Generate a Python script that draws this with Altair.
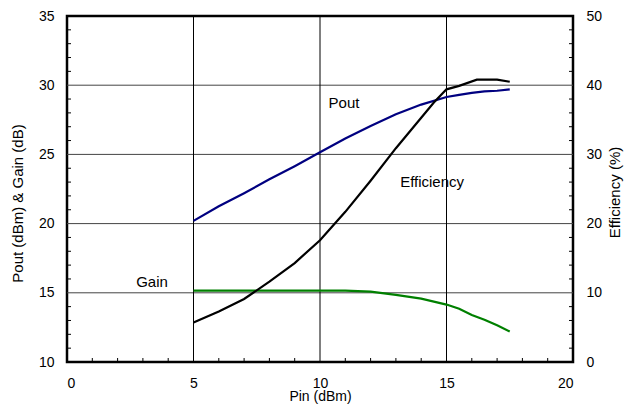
import altair as alt
import pandas as pd

pin = [5, 6, 7, 8, 9, 10, 11, 12, 13, 14, 15, 15.5, 16, 16.5, 17, 17.5]
pout = [20.2, 21.25, 22.2, 23.2, 24.15, 25.15, 26.15, 27.05, 27.9, 28.6, 29.15, 29.3, 29.45, 29.55, 29.6, 29.7]
gain = [15.15, 15.15, 15.15, 15.15, 15.15, 15.15, 15.15, 15.08, 14.85, 14.58, 14.15, 13.85, 13.4, 13.05, 12.65, 12.2]
pin_eff = [5, 6, 7, 8, 9, 10, 11, 12, 13, 14, 14.5, 15, 15.5, 16.2, 17, 17.5]
eff = [5.7, 7.3, 9.1, 11.6, 14.3, 17.6, 21.7, 26.2, 30.9, 35.3, 37.5, 39.4, 39.9, 40.8, 40.8, 40.5]

x_grid = [5, 10, 15]
y_grid = [15, 20, 25, 30]
x_minor = [v for v in range(1, 20) if v % 5 != 0]
y_minor = [v for v in range(11, 35) if v % 5 != 0]
r_minor = [v for v in range(2, 50, 2) if v % 10 != 0]

label_text = ["Pout", "Efficiency", "Gain"]
label_x = [10.95, 14.43, 3.36]
label_y = [28.7, 23.0, 15.78]

FONT = "Liberation Sans"
W, H = 506, 346

df_main = pd.DataFrame({"pin": pin, "pout": pout, "gain": gain})
df_eff = pd.DataFrame({"pin": pin_eff, "eff": eff})
df_lbl = pd.DataFrame({"t": label_text, "x": label_x, "y": label_y})

xs = alt.Scale(domain=[0, 20], nice=False, zero=False)
ls = alt.Scale(domain=[10, 35], nice=False, zero=False)
rs = alt.Scale(domain=[0, 50], nice=False, zero=False)

x_axis = alt.Axis(values=[0, 5, 10, 15, 20], tickSize=0, labelPadding=14, grid=False,
                  domain=False, labelFont=FONT, labelFontSize=14, labelColor="black",
                  title="Pin (dBm)", titleFont=FONT, titleFontSize=14, titleFontWeight="normal",
                  titleColor="black", titlePadding=-1)
l_axis = alt.Axis(values=[10, 15, 20, 25, 30, 35], tickSize=0, labelPadding=13, grid=False,
                  domain=False, orient="left", labelFont=FONT, labelFontSize=14, labelColor="black",
                  title="Pout (dBm) & Gain (dB)", titleFont=FONT, titleFontSize=15,
                  titleFontWeight="normal", titleColor="black", titlePadding=13, titleY=187)
r_axis = alt.Axis(values=[0, 10, 20, 30, 40, 50], tickSize=0, labelPadding=13, grid=False,
                  domain=False, orient="right", labelFont=FONT, labelFontSize=14, labelColor="black",
                  title="Efficiency (%)", titleFont=FONT, titleFontSize=15, titleAngle=270,
                  titleBaseline="top", titleFontWeight="normal", titleColor="black",
                  titlePadding=6, titleY=176)


def X(f):
    return alt.X(f, scale=xs, axis=x_axis, title="Pin (dBm)")


def YL(f):
    return alt.Y(f, scale=ls, axis=l_axis, title="Pout (dBm) & Gain (dB)")


def YR(f):
    return alt.Y(f, scale=rs, axis=r_axis, title="Efficiency (%)")


vgrid = alt.Chart(pd.DataFrame({"x": x_grid})).mark_rule(color="black", strokeWidth=1).encode(
    x=X("x:Q"))
hgrid = alt.Chart(pd.DataFrame({"y": y_grid})).mark_rule(color="#444444", strokeWidth=1).encode(
    y=YL("y:Q"))

xticks = alt.Chart(pd.DataFrame({"x": x_minor})).mark_rule(color="black", strokeWidth=1).encode(
    x=X("x:Q"), y=alt.value(H), y2=alt.value(H - 4))
lticks = alt.Chart(pd.DataFrame({"y": y_minor})).mark_rule(color="black", strokeWidth=1).encode(
    y=YL("y:Q"), x=alt.value(0), x2=alt.value(4))

pout_line = alt.Chart(df_main).mark_line(color="#000080", strokeWidth=2.2).encode(
    x=X("pin:Q"), y=YL("pout:Q"))
gain_line = alt.Chart(df_main).mark_line(color="#008000", strokeWidth=2.2).encode(
    x=X("pin:Q"), y=YL("gain:Q"))
labels = alt.Chart(df_lbl).mark_text(font=FONT, fontSize=15, color="black").encode(
    x=X("x:Q"), y=YL("y:Q"), text="t:N")

left = alt.layer(hgrid, vgrid, xticks, lticks, pout_line, gain_line, labels)

eff_line = alt.Chart(df_eff).mark_line(color="black", strokeWidth=2.2).encode(
    x=X("pin:Q"), y=YR("eff:Q"))
rticks = alt.Chart(pd.DataFrame({"y": r_minor})).mark_rule(color="black", strokeWidth=1).encode(
    y=YR("y:Q"), x=alt.value(W), x2=alt.value(W - 4))

right = alt.layer(rticks, eff_line)

chart = alt.layer(left, right).resolve_scale(y="independent").properties(
    width=W, height=H,
    autosize=alt.AutoSizeParams(type="none"),
    padding={"left": 59, "top": 8, "right": 51, "bottom": 43},
    background="white",
).configure_view(stroke="black", strokeWidth=2.5)

chart.save("out.html", embed_options={"renderer": "svg", "actions": False})
